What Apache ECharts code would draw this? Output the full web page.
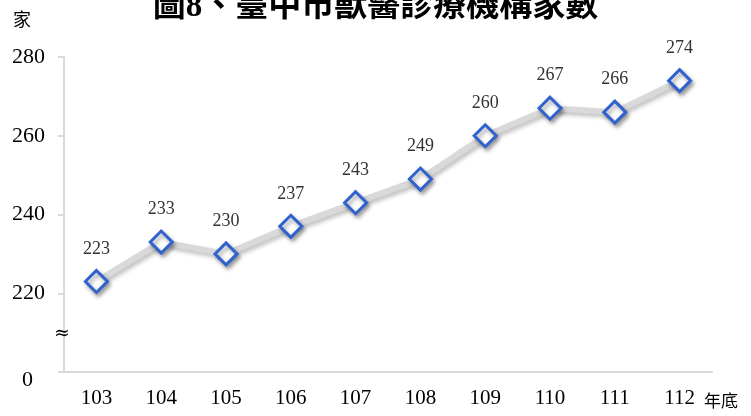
<!DOCTYPE html>
<html>
<head>
<meta charset="utf-8">
<script src="https://cdn.jsdelivr.net/npm/echarts@6/dist/echarts.min.js"></script>
<style>
html, body { margin: 0; padding: 0; background: #fff; }
#chart { width: 751px; height: 416px; }
</style>
</head>
<body>
<div id="chart"></div>
<script>
// 年底
var years = ['103', '104', '105', '106', '107', '108', '109', '110', '111', '112'];
// 家數
var counts = [223, 233, 230, 237, 243, 249, 260, 267, 266, 274];
var yTicks = [200, 220, 240, 260, 280];

var serif = '"Liberation Serif", "Noto Sans CJK TC", serif';

var option = {
  animation: false,
  title: {
    text: '圖8、臺中市獸醫診療機構家數',
    left: 'center',
    top: -14,
    textStyle: { fontFamily: serif, fontSize: 33, fontWeight: 'bold', color: '#000' }
  },
  grid: { left: 64, right: 39, top: 57, bottom: 44 },
  xAxis: {
    type: 'category',
    data: years,
    axisLine: { lineStyle: { color: '#d9d9d9', width: 2 } },
    axisTick: { show: false },
    axisLabel: { color: '#000', fontFamily: serif, fontSize: 21, margin: 16 }
  },
  yAxis: {
    type: 'value',
    min: yTicks[0],
    max: yTicks[yTicks.length - 1],
    interval: 20,
    axisLine: { show: true, lineStyle: { color: '#d9d9d9', width: 2 } },
    axisTick: { show: true, length: 6, lineStyle: { color: '#d9d9d9', width: 2 } },
    splitLine: { show: false },
    axisLabel: {
      color: '#000', fontFamily: serif, fontSize: 22, margin: 19,
      formatter: function (v) { return v === yTicks[0] ? '{z|0}' : String(v); },
      rich: { z: { fontFamily: serif, fontSize: 22, color: '#000', padding: [16, 12, 0, 0] } }
    }
  },
  graphic: [
    { type: 'text', left: 13, top: 12, style: { text: '家', font: '18px ' + serif, fill: '#000' } },
    { type: 'text', left: 54, top: 325, z: 100, style: { text: '\u2248', font: '19px "DejaVu Serif"', fill: '#000' } },
    { type: 'text', left: 704, top: 394, style: { text: '年底', font: '17px ' + serif, fill: '#000' } }
  ],
  series: [{
    type: 'line',
    data: counts,
    symbol: 'diamond',
    symbolSize: [22, 22],
    lineStyle: {
      color: '#d9d9d9', width: 6,
      shadowColor: 'rgba(0,0,0,0.25)', shadowBlur: 4, shadowOffsetX: 2, shadowOffsetY: 3
    },
    itemStyle: {
      color: '#fff', borderColor: '#2f62cf', borderWidth: 3,
      shadowColor: 'rgba(0,0,0,0.35)', shadowBlur: 4, shadowOffsetX: 2, shadowOffsetY: 3
    },
    label: {
      show: true, position: 'top', distance: 11,
      color: '#333', fontFamily: serif, fontSize: 18
    }
  }]
};

var chart = echarts.init(document.getElementById('chart'));
chart.setOption(option);
</script>
</body>
</html>
